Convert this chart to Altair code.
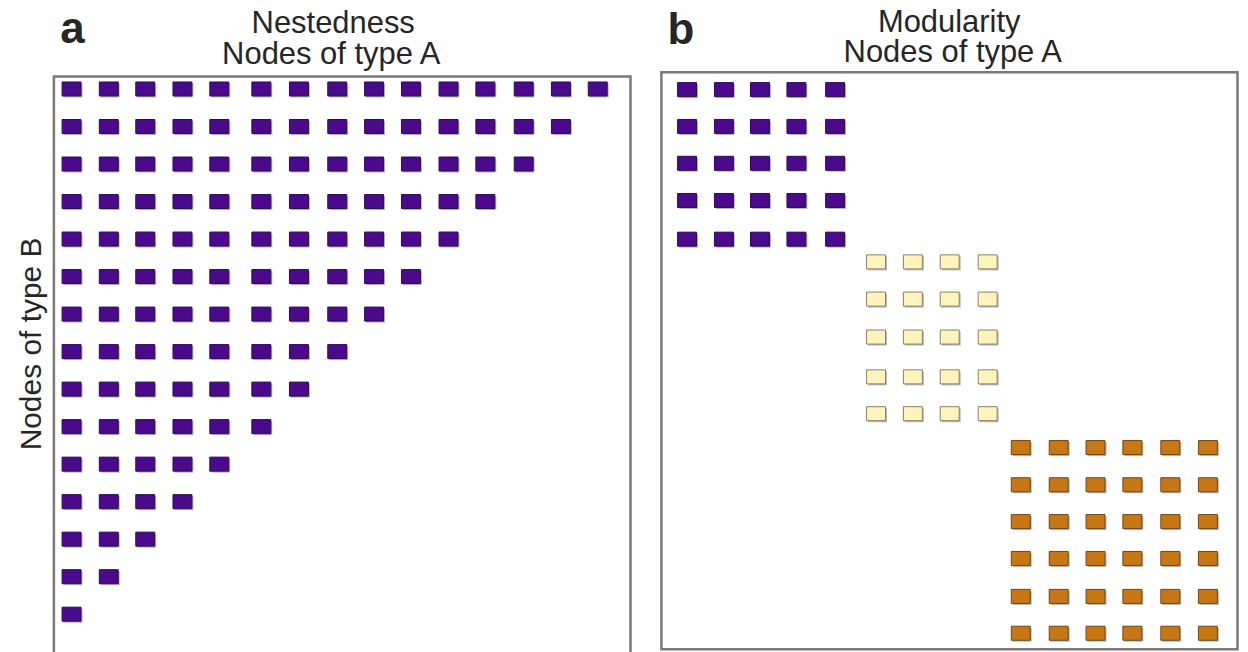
import altair as alt
import pandas as pd

# ---------------- data ----------------
# Panel a: nested matrix (row r holds the first nest_row_lengths[r] columns)
nest_row_lengths = [15, 14, 13, 12, 11, 10, 9, 8, 7, 6, 5, 4, 3, 2, 1]
nest_col_pos = [0, 1, 1.98, 2.98, 3.97, 5.1, 6.11, 7.14, 8.13, 9.12, 10.13, 11.12, 12.15, 13.15, 14.14]
nest_row_pos = [0, 1, 2, 3, 4, 5, 6, 7, 8, 9, 10, 11, 12, 13, 14]

# Panel b: three modules (blocks)
mod_groups = ["m1", "m2", "m3"]
mod_m1_cols = [0, 0.99, 1.96, 2.94, 3.98]
mod_m1_rows = [0, 0.99, 1.98, 2.98, 4.02]
mod_m2_cols = [5.08, 6.07, 7.06, 8.08]
mod_m2_rows = [4.63, 5.63, 6.65, 7.72, 8.71]
mod_m3_cols = [8.97, 9.99, 10.98, 11.97, 12.99, 14.0]
mod_m3_rows = [9.62, 10.62, 11.61, 12.6, 13.62, 14.61]

mod_fill = ["#4b0a8c", "#fff4bd", "#c77815"]
mod_edge = ["#2c0c55", "#8c8162", "#6e4419"]

PURPLE = "#4b0a8c"
PURPLE_EDGE = "#2c0c55"
SHADOW = "#b8b8b8"
BOX = "#7a7a7a"
FONT = "Liberation Sans"
TXT = "#262626"

SQ = "M-1,-0.74L1,-0.74L1,0.74L-1,0.74Z"
SIZE = 361

rows_a = []
for r, n in enumerate(nest_row_lengths):
    for c in range(n):
        rows_a.append({"x": nest_col_pos[c], "y": nest_row_pos[r]})
df_a = pd.DataFrame(rows_a)

rows_b = []
for g, cols, rws in zip(mod_groups, [mod_m1_cols, mod_m2_cols, mod_m3_cols],
                        [mod_m1_rows, mod_m2_rows, mod_m3_rows]):
    for yv in rws:
        for xv in cols:
            rows_b.append({"x": xv, "y": yv, "group": g})
df_b = pd.DataFrame(rows_b)

one = pd.DataFrame({"k": [0]})


def label(txt, x, y, size, weight="normal", angle=0, align="center"):
    return alt.Chart(pd.DataFrame({"label": [txt]})).mark_text(
        font=FONT, fontSize=size, fontWeight=weight, color=TXT,
        align=align, baseline="alphabetic", angle=angle
    ).encode(text="label:N", x=alt.value(x), y=alt.value(y))


W = 578
H = 578

# ---------------- panel a ----------------
xa = alt.X("x:Q", scale=alt.Scale(domain=[-0.475, 15.02], nice=False, zero=False), axis=None)
ya = alt.Y("y:Q", scale=alt.Scale(domain=[-0.33, 15.04], nice=False, zero=False, reverse=True), axis=None)
base_a = alt.Chart(df_a).encode(x=xa, y=ya)
shadow_a = base_a.mark_point(shape=SQ, filled=True, size=SIZE, color=SHADOW, opacity=1,
                             xOffset=1.5, yOffset=1.5)
main_a = base_a.mark_point(shape=SQ, filled=True, size=SIZE, fill=PURPLE, stroke=PURPLE_EDGE,
                           strokeWidth=1, opacity=1)

panel_a = alt.layer(
    shadow_a, main_a,
    label("a", 6.5, -34, 44, "bold", align="left"),
    label("Nestedness", 280, -44, 31),
    label("Nodes of type A", 278, -13, 31),
    label("Nodes of type B", -13, 268, 30, angle=270),
).properties(width=W, height=H)

# ---------------- panel b ----------------
xb = alt.X("x:Q", scale=alt.Scale(domain=[-0.69, 14.81], nice=False, zero=False), axis=None)
yb = alt.Y("y:Q", scale=alt.Scale(domain=[-0.349, 15.147], nice=False, zero=False, reverse=True), axis=None)
base_b = alt.Chart(df_b).encode(x=xb, y=yb)
shadow_b = base_b.mark_point(shape=SQ, filled=True, size=SIZE, color=SHADOW, opacity=1,
                             xOffset=1.5, yOffset=1.5)
main_b = base_b.mark_point(shape=SQ, filled=True, size=SIZE, strokeWidth=1, opacity=1).encode(
    fill=alt.Fill("group:N", scale=alt.Scale(domain=mod_groups, range=mod_fill), legend=None),
    stroke=alt.Stroke("group:N", scale=alt.Scale(domain=mod_groups, range=mod_edge), legend=None),
)
frame_b = alt.Chart(one).mark_rect(fill="transparent", stroke=BOX, strokeWidth=2.5).encode(
    x=alt.value(0), x2=alt.value(577.5), y=alt.value(-4.3), y2=alt.value(574)
)

panel_b = alt.layer(
    frame_b, shadow_b, main_b,
    label("b", 6, -33, 44, "bold", align="left"),
    label("Modularity", 288.5, -44.3, 31),
    label("Nodes of type A", 292, -14.3, 31),
).properties(width=W, height=H, view=alt.ViewBackground(stroke="transparent"))

chart = alt.hconcat(panel_a, panel_b, spacing=26).resolve_scale(
    x="independent", y="independent", fill="independent", stroke="independent"
).properties(
    padding={"left": 7, "top": -3, "right": 0, "bottom": 0}
).configure_view(stroke=BOX, strokeWidth=2.5)

chart.save("out.html", embed_options={"renderer": "svg", "actions": False})
